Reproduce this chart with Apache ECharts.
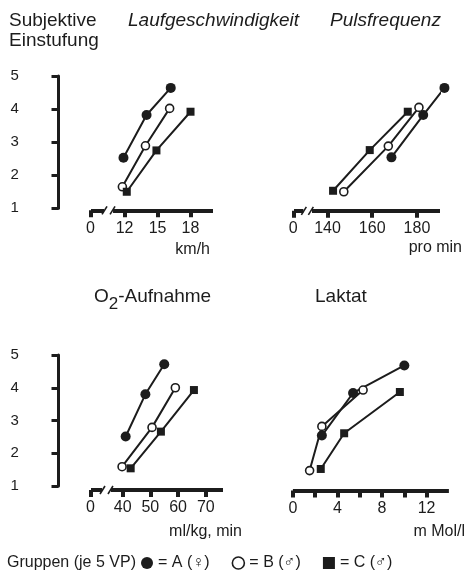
<!DOCTYPE html>
<html>
<head>
<meta charset="utf-8">
<script src="https://cdn.jsdelivr.net/npm/echarts@6/dist/echarts.min.js"></script>
<style>
html,body{margin:0;padding:0;background:#fff;}
#c{width:469px;height:576px;}
</style>
</head>
<body>
<div id="c"></div>
<script>
// ---- data (x value, subjective rating) ----
const ratingTicks = [1, 2, 3, 4, 5];

const speedA = [[11.9, 2.53], [14.0, 3.82], [16.2, 4.64]];
const speedB = [[11.8, 1.65], [13.9, 2.89], [16.1, 4.02]];
const speedC = [[12.2, 1.50], [14.9, 2.75], [18.0, 3.92]];
const speedTicks = [0, 12, 15, 18];

const pulseA = [[168.6, 2.54], [182.8, 3.82], [192.3, 4.64]];
const pulseB = [[147.3, 1.50], [167.2, 2.88], [180.9, 4.05]];
const pulseC = [[142.5, 1.53], [158.9, 2.76], [175.9, 3.92]];
const pulseTicks = [0, 140, 160, 180];

const o2A = [[41.1, 2.51], [48.2, 3.80], [55.0, 4.72]];
const o2B = [[39.8, 1.59], [50.6, 2.79], [59.0, 4.00]];
const o2C = [[42.9, 1.54], [53.8, 2.66], [65.7, 3.93]];
const o2Ticks = [0, 40, 50, 60, 70];

const lactA = [[2.6, 2.54], [5.4, 3.84], [10.0, 4.68]];
const lactB = [[1.5, 1.47], [2.6, 2.82], [6.3, 3.93]];
const lactC = [[2.5, 1.52], [4.6, 2.61], [9.6, 3.87]];
const lactTicks = [0, 2, 4, 6, 8, 10, 12];
const lactLabels = [0, 4, 8, 12];

const groupNames = ['A', 'B', 'C'];
const groupLabels = ['= A (\u2640)', '= B (\u2642)', '= C (\u2642)'];

// ---- layout ----
const FONT = "'Liberation Sans', Arial, 'DejaVu Sans', sans-serif";
const INK = '#1c1c1c';

const panels = [
  { grid: { left: 90.5, top: 76, width: 122, height: 132.3 }, min: 0, max: 20,
    brk: { start: 1.23, end: 10.95, gap: 0.82 }, ticks: speedTicks, labels: speedTicks,
    xOff: 2, yAxis: true, data: [speedA, speedB, speedC] },
  { grid: { left: 293.3, top: 76, width: 146, height: 132.3 }, min: 0, max: 190,
    brk: { start: 4.5, end: 132.8, gap: 3.58 }, ticks: pulseTicks, labels: pulseTicks,
    xOff: 2.5, yAxis: false, data: [pulseA, pulseB, pulseC] },
  { grid: { left: 90.5, top: 355, width: 132, height: 131 }, min: 0, max: 76,
    brk: { start: 4.14, end: 35.8, gap: 3.24 }, ticks: o2Ticks, labels: o2Ticks,
    xOff: 4, yAxis: true, data: [o2A, o2B, o2C] },
  { grid: { left: 292.9, top: 355, width: 156, height: 131 }, min: 0, max: 14,
    brk: null, ticks: lactTicks, labels: lactLabels,
    xOff: 4.5, yAxis: false, data: [lactA, lactB, lactC] }
];

const STYLE = {
  A: { symbol: 'circle', size: 10, item: { color: INK } },
  B: { symbol: 'circle', size: 8, item: { color: '#fff', borderColor: INK, borderWidth: 1.6 } },
  C: { symbol: 'rect', size: 8, item: { color: INK } }
};

function xAxisFor(p, i) {
  const ax = {
    gridIndex: i, type: 'value', min: p.min, max: p.max, offset: p.xOff,
    axisLine: { show: true, onZero: false, lineStyle: { color: INK, width: 4, cap: 'butt' } },
    axisTick: { show: true, customValues: p.ticks, length: 7, lineStyle: { color: INK, width: 4 } },
    axisLabel: { show: true, customValues: p.labels, margin: 10, color: INK, fontSize: 16, fontFamily: FONT },
    splitLine: { show: false }
  };
  if (p.brk) {
    ax.breaks = [p.brk];
    ax.breakArea = { show: false };
  }
  return ax;
}

function yAxisFor(p, i) {
  return {
    gridIndex: i, type: 'value', min: ratingTicks[0], max: ratingTicks[ratingTicks.length - 1],
    interval: 1, show: p.yAxis, offset: 32,
    axisLine: { show: true, onZero: false, lineStyle: { color: INK, width: 3 } },
    axisTick: { show: true, length: 7, lineStyle: { color: INK, width: 3 } },
    axisLabel: { show: true, align: 'left', margin: 48, color: INK, fontSize: 15, fontFamily: FONT },
    splitLine: { show: false }
  };
}

const series = [];
panels.forEach((p, i) => {
  groupNames.forEach((g, k) => {
    const st = STYLE[g];
    series.push({
      type: 'line', name: g, xAxisIndex: i, yAxisIndex: i, data: p.data[k],
      symbol: st.symbol, symbolSize: st.size, showSymbol: true, clip: false,
      lineStyle: { color: INK, width: 2 }, itemStyle: st.item,
      emphasis: { disabled: true }, animation: false, z: 3
    });
  });
});

const chart = echarts.init(document.getElementById('c'));
chart.setOption({
  backgroundColor: '#fff',
  animation: false,
  grid: panels.map(p => Object.assign({ outerBoundsMode: 'none', containLabel: false }, p.grid)),
  xAxis: panels.map(xAxisFor),
  yAxis: panels.map(yAxisFor),
  legend: {
    left: 136, top: 550, itemWidth: 12, itemHeight: 12, itemGap: 22, selectedMode: false,
    textStyle: { fontSize: 16, color: INK, fontFamily: FONT },
    formatter: n => groupLabels[groupNames.indexOf(n)],
    data: [
      { name: 'A', icon: 'circle', itemStyle: { color: INK } },
      { name: 'B', icon: 'circle', itemStyle: { color: '#fff', borderColor: INK, borderWidth: 1.6 } },
      { name: 'C', icon: 'rect', itemStyle: { color: INK } }
    ]
  },
  series: series
});

function txt(text, x, y, size, extra) {
  return { type: 'text', x: x, y: y, z: 50,
    style: Object.assign({ text: text, fill: INK, fontSize: size, fontFamily: FONT,
      align: 'left', verticalAlign: 'middle' }, extra || {}) };
}

const els = [
  txt('Subjektive', 9, 21, 19),
  txt('Einstufung', 9, 41, 19),
  txt('Laufgeschwindigkeit', 128, 21, 19, { fontStyle: 'italic' }),
  txt('Pulsfrequenz', 330, 21, 19, { fontStyle: 'italic' }),
  {
    type: 'text', x: 94, y: 287, z: 50,
    style: {
      text: '{m|O}{s|2}{m|-Aufnahme}', fill: INK, align: 'left', verticalAlign: 'top',
      rich: {
        m: { fontSize: 19, fontFamily: FONT, lineHeight: 20, verticalAlign: 'top', fill: INK },
        s: { fontSize: 17, fontFamily: FONT, lineHeight: 26, verticalAlign: 'bottom', fill: INK }
      }
    }
  },
  txt('Laktat', 315, 297, 19),
  txt('km/h', 210, 250, 16, { align: 'right' }),
  txt('pro min', 462, 248, 16, { align: 'right' }),
  txt('ml/kg, min', 242, 532, 16, { align: 'right' }),
  txt('m Mol/l', 465, 532, 16, { align: 'right' }),
  txt('Gruppen (je 5 VP)', 7, 563, 16)
];

// axis break marks "//"
panels.forEach((p, i) => {
  if (!p.brk) return;
  const a = chart.convertToPixel({ gridIndex: i }, [p.brk.start, 1]);
  const b = chart.convertToPixel({ gridIndex: i }, [p.brk.end, 1]);
  const y = a[1] + p.xOff;
  els.push({ type: 'rect', z: 100, shape: { x: a[0], y: y - 3, width: b[0] - a[0], height: 6 }, style: { fill: '#fff' } });
  els.push({ type: 'line', z: 101, shape: { x1: a[0] - 2, y1: y + 4, x2: a[0] + 3, y2: y - 4 }, style: { stroke: INK, lineWidth: 1.6 } });
  els.push({ type: 'line', z: 101, shape: { x1: b[0] - 3, y1: y + 4, x2: b[0] + 2, y2: y - 4 }, style: { stroke: INK, lineWidth: 1.6 } });
});

chart.setOption({ graphic: { elements: els } });
</script>
</body>
</html>
